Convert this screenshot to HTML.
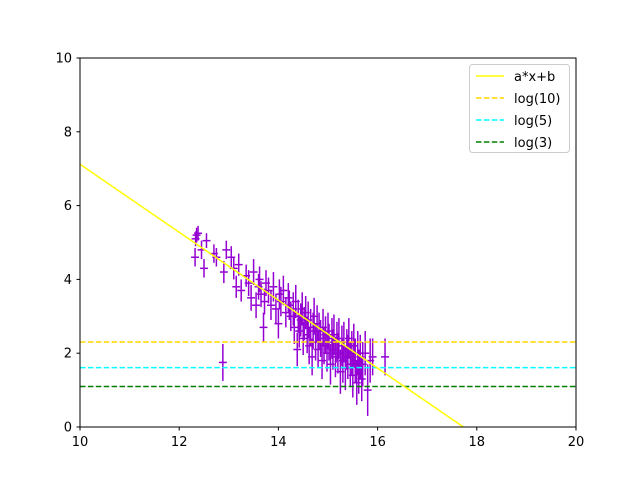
<!DOCTYPE html>
<html><head><meta charset="utf-8"><style>
body{margin:0;background:#fff}
svg{font-family:"DejaVu Sans","Liberation Sans",sans-serif;font-size:13px}
</style></head><body>
<svg id="c" width="640" height="480">
<rect x="0" y="0" width="640" height="480" fill="#fff"/>
<g id="plot"></g>
<rect x="80" y="58" width="496" height="369" fill="none" stroke="#000" stroke-width="1"/>
<g id="ticks"></g>
<g>
<rect x="469.5" y="64.5" width="100" height="88" rx="3" fill="#fff" fill-opacity="0.8" stroke="#ccc"/>
<line x1="476" y1="76" x2="504" y2="76" stroke="#ffff00" stroke-width="1.5"/>
<text x="514" y="81">a*x+b</text>
<line x1="476" y1="98" x2="504" y2="98" stroke="#ffd700" stroke-width="1.5" stroke-dasharray="5.5,2.4"/>
<text x="514" y="103">log(10)</text>
<line x1="476" y1="120" x2="504" y2="120" stroke="#00ffff" stroke-width="1.5" stroke-dasharray="5.5,2.4"/>
<text x="514" y="125">log(5)</text>
<line x1="476" y1="142" x2="504" y2="142" stroke="#008000" stroke-width="1.5" stroke-dasharray="5.5,2.4"/>
<text x="514" y="147">log(3)</text>
</g>
</svg>
<script>
const xs=[12.33,12.35,12.38,12.32,12.45,12.5,12.55,12.7,12.75,12.9,12.95,12.88,13.05,13.1,13.15,13.2,13.25,13.35,13.4,13.45,13.5,13.55,13.6,13.62,13.65,13.7,13.72,13.75,13.8,13.85,13.9,13.95,14.0,14.02,14.05,14.1,14.15,14.2,14.22,14.25,14.3,14.32,14.35,14.38,14.4,14.42,14.45,14.48,14.5,14.52,14.55,14.58,14.6,14.62,14.65,14.68,14.7,14.72,14.75,14.78,14.8,14.82,14.85,14.88,14.9,14.92,14.95,14.98,15.0,15.02,15.05,15.08,15.1,15.12,15.15,15.18,15.2,15.22,15.25,15.28,15.3,15.32,15.35,15.38,15.4,15.42,15.45,15.48,15.5,15.52,15.55,15.58,15.6,15.62,15.65,15.68,15.7,15.75,15.8,15.85,15.9,16.15];
const ys=[5.1,5.2,5.25,4.6,4.8,4.3,5.05,4.7,4.6,4.2,4.8,1.75,4.6,4.3,3.8,4.4,3.7,4.1,3.9,3.5,4.2,3.3,3.8,4.0,3.6,2.7,3.4,3.9,3.7,3.3,3.8,3.2,2.8,3.6,3.4,3.7,3.1,3.5,3.3,3.0,3.2,2.7,3.4,2.1,3.0,2.6,2.9,3.2,2.4,2.8,3.1,2.5,2.9,2.2,2.7,1.9,2.6,3.0,2.3,2.8,2.1,2.6,2.4,1.8,2.7,2.2,2.5,2.0,2.6,2.3,1.7,2.4,2.1,2.5,1.9,2.3,2.0,2.4,1.5,2.2,1.8,2.3,1.6,2.1,1.9,2.4,1.7,2.0,1.4,2.2,1.8,1.2,2.0,1.5,1.9,1.3,1.7,2.0,1.0,1.8,1.9,1.9];
const yerrs=[0.2,0.2,0.2,0.25,0.25,0.25,0.2,0.25,0.25,0.3,0.25,0.5,0.3,0.3,0.3,0.3,0.3,0.3,0.35,0.35,0.35,0.35,0.35,0.35,0.35,0.4,0.35,0.35,0.35,0.4,0.4,0.4,0.4,0.4,0.4,0.4,0.4,0.4,0.4,0.4,0.45,0.45,0.45,0.45,0.45,0.45,0.45,0.45,0.45,0.45,0.45,0.5,0.5,0.5,0.5,0.5,0.5,0.5,0.5,0.5,0.5,0.5,0.5,0.5,0.5,0.5,0.5,0.5,0.5,0.5,0.55,0.55,0.55,0.55,0.55,0.55,0.55,0.55,0.6,0.55,0.6,0.55,0.6,0.55,0.6,0.55,0.6,0.6,0.6,0.6,0.6,0.6,0.6,0.6,0.6,0.6,0.6,0.6,0.7,0.6,0.5,0.5];
const xerr=0.08;
const fitA=-0.921, fitB=16.33;
const hlines=[2.303,1.609,1.099];
const hcolors=['#ffd700','#00ffff','#008000'];
const xTicks=[10,12,14,16,18,20];
const yTicks=[0,2,4,6,8,10];
const NS='http://www.w3.org/2000/svg';
const X=v=>80+(v-10)/10*496, Y=v=>427-v/10*369;
const plot=document.getElementById('plot'), tk=document.getElementById('ticks');
function mk(tag,at,par){const e=document.createElementNS(NS,tag);for(const k in at)e.setAttribute(k,at[k]);par.appendChild(e);return e;}
const clip=mk('clipPath',{id:'cl'},plot);mk('rect',{x:80,y:58,width:496,height:369},clip);
const g=mk('g',{'clip-path':'url(#cl)'},plot);
for(let i=0;i<xs.length;i++){
  const e=mk('g',{stroke:'#9400d3','stroke-width':1.5},g);
  
  
  mk('line',{x1:X(xs[i]),x2:X(xs[i]),y1:Y(ys[i]-yerrs[i]),y2:Y(ys[i]+yerrs[i])},e);
  mk('line',{x1:X(xs[i]-xerr),x2:X(xs[i]+xerr),y1:Y(ys[i]),y2:Y(ys[i])},e);
}
hlines.forEach((v,i)=>{
  const l=mk('line',{x1:80,x2:576,y1:Y(v),y2:Y(v),stroke:hcolors[i],'stroke-width':1.5,'stroke-dasharray':'5.5,2.4'},g);
  
  
});
const fl=mk('line',{x1:X(10),y1:Y(fitA*10+fitB),x2:X(20),y2:Y(fitA*20+fitB),stroke:'#ffff00','stroke-width':1.5},g);


xTicks.forEach(v=>{
  mk('line',{x1:X(v),x2:X(v),y1:427,y2:430.5,stroke:'#000'},tk);
  const t=mk('text',{x:X(v),y:446,'text-anchor':'middle'},tk);t.textContent=v;
  
  
});
yTicks.forEach(v=>{
  mk('line',{x1:76.5,x2:80,y1:Y(v),y2:Y(v),stroke:'#000'},tk);
  const t=mk('text',{x:72,y:Y(v)+4.5,'text-anchor':'end'},tk);t.textContent=v;
  
  
});
</script>
</body></html>
